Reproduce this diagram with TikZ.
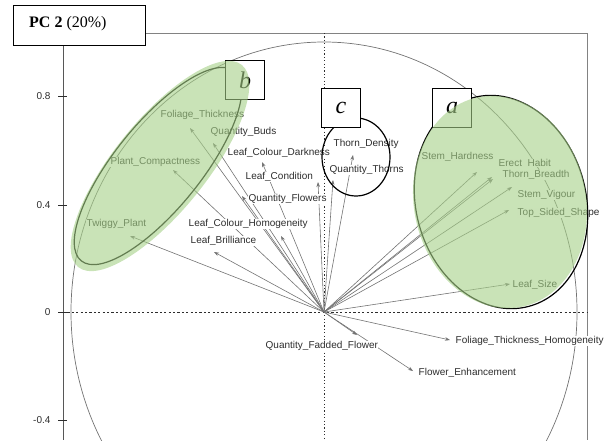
\documentclass[tikz,border=0pt]{standalone}
\usepackage{fontspec}
\setmainfont{Liberation Sans}
\newfontfamily\tnr{Liberation Serif}
\usetikzlibrary{arrows.meta}
\definecolor{grn}{RGB}{165,208,135}
\definecolor{vecc}{RGB}{115,115,115}
\definecolor{txt}{RGB}{45,45,45}
\definecolor{frame}{RGB}{130,130,130}
\begin{document}
\begin{tikzpicture}[x=1pt,y=-1pt,
  vec/.style={draw=vecc, line width=0.6pt, -{Stealth[length=5pt,width=3.6pt]}},
  lab/.style={font=\fontsize{10}{11}\selectfont, text=txt, fill=white, inner sep=0.5pt, anchor=west},
  tick/.style={font=\fontsize{10}{11}\selectfont, text=txt, anchor=east},
  letterbox/.style={draw=black, line width=1pt, fill=white, minimum width=39pt, minimum height=39pt, inner sep=0pt, font=\tnr\itshape\fontsize{24}{24}\selectfont},
  circ/.style={draw=vecc, line width=0.7pt},
  grp/.style={draw=black, line width=1.2pt},
  greenfill/.style={fill=grn, fill opacity=0.6, draw=none}]
\useasboundingbox (0,0) rectangle (615,440);
\clip (0,0) rectangle (615,440);
% frame and axes
\draw[frame, line width=0.9pt] (145,33) -- (587,33) -- (587,440);
\draw[draw=txt!80, line width=0.9pt] (63,45) -- (63,440);
\foreach \yy/\tt in {96/0.8, 205/0.4, 312/0, 420/-0.4} {
  \draw[txt, line width=0.8pt] (58,\yy) -- (67,\yy);
  \node[tick] at (54,\yy) {\tt};
}
\draw[txt, line width=0.9pt, dash pattern=on 2.2pt off 2.2pt] (63,312) -- (587,312);
\draw[txt, line width=0.9pt, dash pattern=on 1.2pt off 2.2pt] (324,33) -- (324,440);
% correlation circle
\coordinate (O) at (324,312);
\draw[circ] (O) ellipse [x radius=253, y radius=270];
% vector tips
\coordinate (tFT) at (190,128);
\coordinate (tQB) at (213,143);
\coordinate (tPC) at (173,170);
\coordinate (tTP) at (130,236);
\coordinate (tLCD) at (262,162);
\coordinate (tLC) at (318,182);
\coordinate (tQF) at (242,196);
\coordinate (tLCH) at (281,236);
\coordinate (tLB) at (214,252);
\coordinate (tTD) at (353,155);
\coordinate (tQT) at (333,180);
\coordinate (tSH) at (477,172);
\coordinate (tEH) at (492,177);
\coordinate (tTB) at (493,179);
\coordinate (tSV) at (512,187);
\coordinate (tTS) at (509,210);
\coordinate (tLS) at (510,284);
\coordinate (tFTH) at (450,340);
\coordinate (tQFF) at (357,335);
\coordinate (tFE) at (413,371);
\foreach \t in {tFT,tQB,tPC,tTP,tLCD,tLC,tQF,tLCH,tLB,tTD,tQT,tSH,tEH,tTB,tSV,tTS,tLS,tFTH,tQFF,tFE}
  \draw[vec] (O) -- (\t);
% labels
\node[lab] (lFT) at (160,115) {Foliage\_Thickness};
\node[lab] (lQB) at (210,132) {Quantity\_Buds};
\node[lab] (lPC) at (110,162) {Plant\_Compactness};
\node[lab] (lTP) at (86,224) {Twiggy\_Plant};
\node[lab] (lLCD) at (227,153) {Leaf\_Colour\_Darkness};
\node[lab] (lLC) at (245,177) {Leaf\_Condition};
\node[lab] (lQF) at (248,199) {Quantity\_Flowers};
\node[lab] (lLCH) at (188,224) {Leaf\_Colour\_Homogeneity};
\node[lab] (lLB) at (190,241) {Leaf\_Brilliance};
\node[lab] (lTD) at (333,144) {Thorn\_Density};
\node[lab] (lQT) at (329,170) {Quantity\_Thorns};
\node[lab] (lSH) at (421,157) {Stem\_Hardness};
\node[lab] (lEH) at (498,163) {Erect\ \ Habit};
\node[lab] (lTB) at (502,175) {Thorn\_Breadth};
\node[lab] (lSV) at (517,195) {Stem\_Vigour};
\node[lab] (lTS) at (517,213) {Top\_Sided\_Shape};
\node[lab] (lLS) at (512,285) {Leaf\_Size};
\node[lab] (lFTH) at (455,341) {Foliage\_Thickness\_Homogeneity};
\node[lab] (lQFF) at (265,346) {Quantity\_Fadded\_Flower};
\node[lab] (lFE) at (418,373) {Flower\_Enhancement};
% group outlines
\draw[grp] (356,157) ellipse [x radius=34, y radius=39];
\draw[grp, rotate around={51:(158,166)}] (158,166) ellipse [x radius=122, y radius=43];
\draw[grp, rotate around={15:(501,202)}] (501,202) ellipse [x radius=85, y radius=108];
% letter boxes
\node[letterbox] (bb) at (245,80) {b};
\node[letterbox] (bc) at (341,108) {c};
\node[letterbox] (ba) at (452,108) {a};
% green fills
\fill[greenfill, rotate around={51:(160,166)}] (160,166) ellipse [x radius=130, y radius=46];
\fill[greenfill, rotate around={12:(500,202)}] (500,202) ellipse [x radius=86, y radius=107];
% title
\node[draw=black, line width=1pt, fill=white, minimum width=132pt, minimum height=40pt, inner sep=0pt] (title) at (79,25) {};
\node[anchor=west, font=\tnr\fontsize{16}{16}\selectfont, inner sep=0pt] (tt) at (29,24) {\textbf{PC 2} (20\%)};
\end{tikzpicture}
\end{document}
